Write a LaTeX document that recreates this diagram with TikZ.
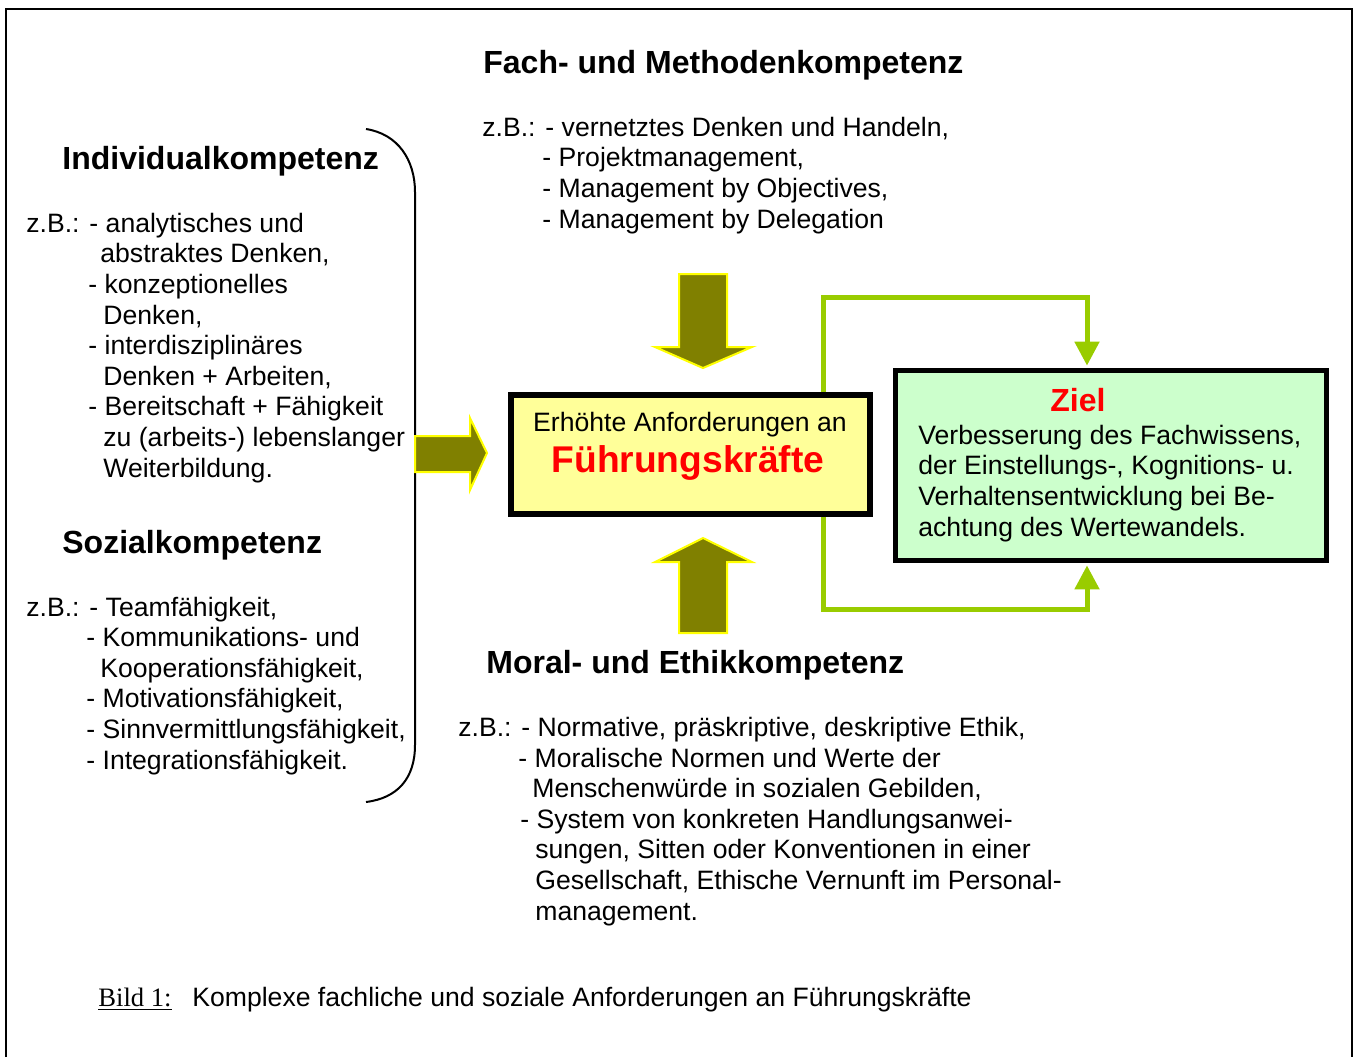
\documentclass[tikz,border=0pt]{standalone}
\usepackage{fontspec}
\setmainfont{Liberation Sans}
\newfontfamily\bildfont{Liberation Serif}
\usetikzlibrary{positioning, arrows.meta}

\definecolor{olivearrow}{HTML}{808000}
\definecolor{arrowrim}{HTML}{FFFF00}
\definecolor{fkfill}{HTML}{FFFF99}
\definecolor{zielfill}{HTML}{CCFFCC}
\definecolor{zielline}{HTML}{99CC00}
\definecolor{redtext}{HTML}{FF0000}

\begin{document}
\begin{tikzpicture}[x=0.5pt, y=-0.5pt,
	txt/.style={anchor=base west, inner sep=0, align=left, font=\fontsize{13.3}{15.3}\selectfont},
	head/.style={anchor=base west, inner sep=0, font=\fontsize{16}{19}\selectfont\bfseries},
	blockarrow/.style={fill=olivearrow, draw=arrowrim, line width=1pt, line join=miter},
	gline/.style={draw=zielline, line width=2.5pt},
	]
	\useasboundingbox (0,0) rectangle (1356,1057);
	\draw[line width=1pt] (6,1057) -- (6,9) -- (1352,9) -- (1352,1057);
	
	% text blocks: base anchor sits on the last line
	\node[head] (fach) at (483,73) {Fach- und Methodenkompetenz};
	\node[txt] (fachbsp) at (482,228) {z.B.: - vernetztes Denken und Handeln,\\
		\hspace*{30pt}- Projektmanagement,\\
		\hspace*{30pt}- Management by Objectives,\\
		\hspace*{30pt}- Management by Delegation};
	
	\node[head] (indiv) at (62,169) {Individualkompetenz};
	\node[txt] (indivbsp) at (26,477) {z.B.: - analytisches und\\
		\hspace*{37pt}abstraktes Denken,\\
		\hspace*{31pt}- konzeptionelles\\
		\hspace*{38.5pt}Denken,\\
		\hspace*{31pt}- interdisziplinäres\\
		\hspace*{38.5pt}Denken + Arbeiten,\\
		\hspace*{31pt}- Bereitschaft + Fähigkeit\\
		\hspace*{38.5pt}zu (arbeits-) lebenslanger\\
		\hspace*{38.5pt}Weiterbildung.};
	
	\node[head] (sozial) at (62,553) {Sozialkompetenz};
	\node[txt] (sozialbsp) at (26,769) {z.B.: - Teamfähigkeit,\\
		\hspace*{30pt}- Kommunikations- und\\
		\hspace*{37pt}Kooperationsfähigkeit,\\
		\hspace*{30pt}- Motivationsfähigkeit,\\
		\hspace*{30pt}- Sinnvermittlungsfähigkeit,\\
		\hspace*{30pt}- Integrationsfähigkeit.};
	
	\node[head] (moral) at (486,673) {Moral- und Ethikkompetenz};
	\node[txt] (moralbsp) at (458,920) {z.B.: - Normative, präskriptive, deskriptive Ethik,\\
		\hspace*{30pt}- Moralische Normen und Werte der\\
		\hspace*{37pt}Menschenwürde in sozialen Gebilden,\\
		\hspace*{31pt}- System von konkreten Handlungsanwei-\\
		\hspace*{38.5pt}sungen, Sitten oder Konventionen in einer\\
		\hspace*{38.5pt}Gesellschaft, Ethische Vernunft im Personal-\\
		\hspace*{38.5pt}management.};
	
	\draw[line width=1pt] (366,129) .. controls (398,134) and (415,160) .. (415,192)
		-- (415,745) .. controls (415,778) and (398,798) .. (366,802);
	
	\node[draw, line width=3pt, fill=fkfill, minimum width=179.5pt, minimum height=59.5pt] (fk) at (690.5,454.5) {};
	\node[txt, anchor=base] (fktext) at (690,431) {Erhöhte Anforderungen an};
	\node[anchor=base, inner sep=0, text=redtext, font=\fontsize{18.6}{22}\selectfont\bfseries] (fkname) at (688,472) {Führungskräfte};
	
	\node[draw, line width=2.5pt, fill=zielfill, minimum width=215.5pt, minimum height=95pt] (ziel) at (1111,465.5) {};
	\node[anchor=base, inner sep=0, text=redtext, font=\fontsize{16}{19}\selectfont\bfseries] (zielhead) at (1078,411) {Ziel};
	\node[txt] (zieltext) at (918,536) {Verbesserung des Fachwissens,\\
		der Einstellungs-, Kognitions- u.\\
		Verhaltensentwicklung bei Be-\\
		achtung des Wertewandels.};
	
	\draw[blockarrow] (679,274) -- (727,274) -- (727,347) -- (752,347) -- (703,368) -- (655,347) -- (679,347) -- cycle;
	\draw[blockarrow] (679,633) -- (727,633) -- (727,562) -- (752,562) -- (703,538) -- (655,562) -- (679,562) -- cycle;
	\draw[blockarrow] (415,436) -- (470,436) -- (470,418) -- (487,453) -- (470,490) -- (470,472) -- (415,472) -- cycle;
	
	\coordinate (tl) at (823,297);
	\coordinate (tr) at (1087,297);
	\coordinate (bl) at (823,609);
	\coordinate (br) at (1087,609);
	\draw[gline, -{Triangle[width=12pt,length=12pt]}, shorten >=1.2pt] (fk.north -| tl) -- (tl) -- (tr) -- (ziel.north -| tr);
	\draw[gline, -{Triangle[width=12pt,length=12pt]}, shorten >=1.2pt] (fk.south -| bl) -- (bl) -- (br) -- (ziel.south -| br);
	
	\node[txt] (bild) at (98,1006) {\bildfont\underline{Bild 1:}};
	\node[txt, base right=10pt of bild] (bildtext) {Komplexe fachliche und soziale Anforderungen an Führungskräfte};
\end{tikzpicture}
\end{document}
